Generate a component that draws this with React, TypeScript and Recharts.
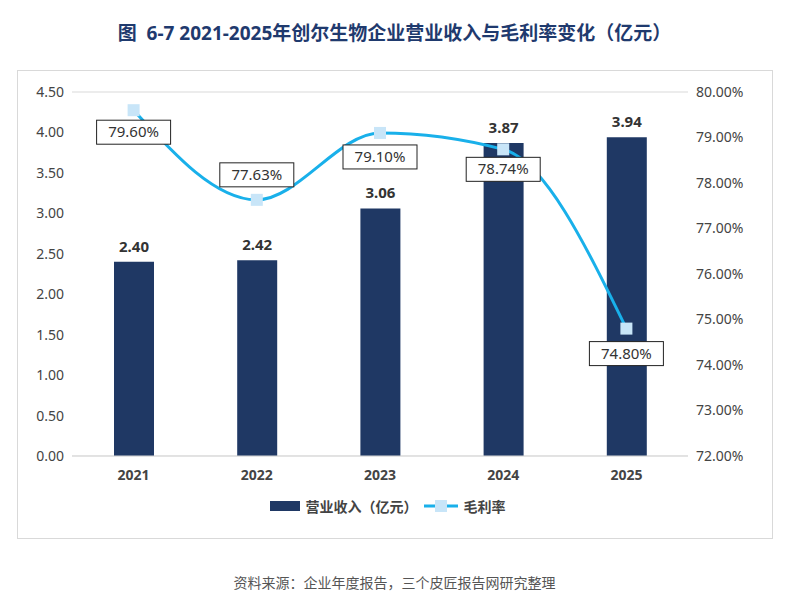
import { Bar, CartesianGrid, ComposedChart, Legend, Line, XAxis, YAxis, LabelList } from "recharts";

const years = ["2021", "2022", "2023", "2024", "2025"];
const revenue = [2.4, 2.42, 3.06, 3.87, 3.94];
const margin = [79.6, 77.63, 79.1, 78.74, 74.8];
const leftTicks = [0, 0.5, 1, 1.5, 2, 2.5, 3, 3.5, 4, 4.5];
const rightTicks = [72, 73, 74, 75, 76, 77, 78, 79, 80];
const labelDy = [22, -25, 24, 20, 25];

const data = years.map((y, i) => ({ year: y, revenue: revenue[i], margin: margin[i] }));

const font = "'Noto Sans', 'Noto Sans CJK SC', sans-serif";

function Square(props: any) {
  const { cx, cy } = props;
  if (cx == null) return null;
  return <rect x={cx - 6} y={cy - 6} width={12} height={12} fill="#c8e5f8" />;
}

function PctLabel(props: any) {
  const { x, y, value, index } = props;
  const cy = y + labelDy[index];
  return (
    <g>
      <rect x={x - 37} y={cy - 12} width={74} height={24} fill="#fff" stroke="#222" strokeWidth={1} />
      <text x={x} y={cy + 5} textAnchor="middle" fontSize={15} fill="#333" fontFamily={font}>
        {value.toFixed(2)}%
      </text>
    </g>
  );
}

function LegendBox() {
  return (
    <div style={{ display: "flex", justifyContent: "center", alignItems: "center", gap: 6, fontSize: 14, fontWeight: 700, color: "#444", fontFamily: font }}>
      <svg width={30} height={12}><rect x={0} y={1} width={30} height={10} fill="#1f3864" /></svg>
      <span>营业收入（亿元）</span>
      <svg width={34} height={14}>
        <line x1={0} y1={7} x2={34} y2={7} stroke="#19b0ea" strokeWidth={3} />
        <rect x={11} y={1} width={12} height={12} fill="#c8e5f8" />
      </svg>
      <span>毛利率</span>
    </div>
  );
}

export default function App() {
  const tick = { fontSize: 14, fill: "#444", fontFamily: font };
  return (
    <div style={{ position: "fixed", left: 0, top: 0, width: 789, height: 606, background: "#fff", fontFamily: font }}>
      <div style={{ position: "absolute", top: 18, width: 789, textAlign: "center", fontSize: 19, fontWeight: 700, color: "#1f3a6e" }}>
        图&nbsp;&nbsp;6-7 2021-2025年创尔生物企业营业收入与毛利率变化（亿元）
      </div>
      <div style={{ position: "absolute", left: 17, top: 70, width: 754, height: 467, border: "1px solid #d9d9d9" }} />
      <div style={{ position: "absolute", left: 0, top: 0 }}>
        <ComposedChart width={789} height={530} data={data} margin={{ top: 92, right: 31, bottom: 0, left: 17 }}>
          <CartesianGrid vertical={false} stroke="#d9d9d9" />
          <XAxis dataKey="year" tick={{ ...tick, fontWeight: 700 }} axisLine={{ stroke: "#d9d9d9" }} tickLine={false} height={40} tickMargin={8} />
          <YAxis yAxisId="l" width={55} domain={[0, 4.5]} ticks={leftTicks} tick={tick} axisLine={false} tickLine={false} tickFormatter={(v: number) => v.toFixed(2)} />
          <YAxis yAxisId="r" orientation="right" width={70} domain={[72, 80]} ticks={rightTicks} tick={tick} axisLine={false} tickLine={false} tickFormatter={(v: number) => v.toFixed(2) + "%"} />
          <Legend verticalAlign="bottom" height={34} content={<LegendBox />} />
          <Bar yAxisId="l" dataKey="revenue" name="营业收入（亿元）" fill="#1f3864" barSize={40} isAnimationActive={false}>
            <LabelList dataKey="revenue" position="top" offset={10} formatter={(v: any) => Number(v).toFixed(2)} style={{ fontSize: 15, fontWeight: 700, fill: "#333", fontFamily: font }} />
          </Bar>
          <Line yAxisId="r" dataKey="margin" name="毛利率" type="monotone" stroke="#19b0ea" strokeWidth={3} dot={<Square />} activeDot={false} isAnimationActive={false}>
            <LabelList dataKey="margin" content={<PctLabel />} />
          </Line>
        </ComposedChart>
      </div>
      <div style={{ position: "absolute", top: 572, width: 789, textAlign: "center", fontSize: 14, color: "#555" }}>
        资料来源：企业年度报告，三个皮匠报告网研究整理
      </div>
    </div>
  );
}
